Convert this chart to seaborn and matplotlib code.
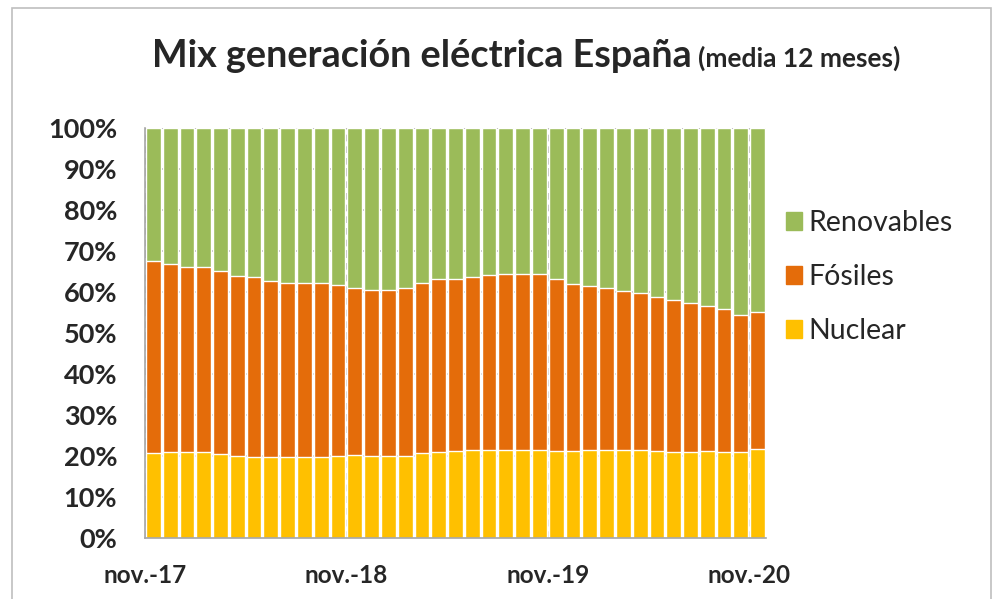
import numpy as np
import pandas as pd
import matplotlib
matplotlib.use('Agg')
import matplotlib.pyplot as plt
import matplotlib.patches as mpatches
import seaborn as sns

# meses (media movil 12 meses), nov-17 .. nov-20
months = ['nov.-17', 'dic.-17', 'ene.-18', 'feb.-18', 'mar.-18', 'abr.-18', 'may.-18', 'jun.-18',
          'jul.-18', 'ago.-18', 'sep.-18', 'oct.-18', 'nov.-18', 'dic.-18', 'ene.-19', 'feb.-19',
          'mar.-19', 'abr.-19', 'may.-19', 'jun.-19', 'jul.-19', 'ago.-19', 'sep.-19', 'oct.-19',
          'nov.-19', 'dic.-19', 'ene.-20', 'feb.-20', 'mar.-20', 'abr.-20', 'may.-20', 'jun.-20',
          'jul.-20', 'ago.-20', 'sep.-20', 'oct.-20', 'nov.-20']

# cuota de cada tecnologia (%)
nuclear = [20.8, 20.9, 21.0, 20.9, 20.4, 19.9, 19.8, 19.8, 19.8, 19.7, 19.8, 20.1,
           20.2, 20.1, 20.0, 20.1, 20.7, 21.0, 21.2, 21.4, 21.5, 21.5, 21.5, 21.4,
           21.2, 21.2, 21.4, 21.5, 21.5, 21.4, 21.3, 21.0, 21.0, 21.1, 21.0, 21.0, 21.8]
fosiles = [46.7, 45.9, 45.2, 45.3, 44.6, 44.1, 43.8, 43.0, 42.4, 42.5, 42.4, 41.6,
           40.8, 40.5, 40.6, 40.8, 41.5, 42.2, 42.0, 42.3, 42.6, 43.0, 42.8, 43.0,
           41.9, 40.7, 40.1, 39.4, 38.7, 38.4, 37.6, 37.1, 36.3, 35.4, 34.9, 33.5, 33.3]
renovables = [32.5, 33.2, 33.8, 33.8, 35.0, 36.0, 36.4, 37.2, 37.8, 37.8, 37.8, 38.3,
              39.0, 39.4, 39.4, 39.1, 37.8, 36.8, 36.8, 36.3, 35.9, 35.5, 35.7, 35.6,
              36.9, 38.1, 38.5, 39.1, 39.8, 40.2, 41.1, 41.9, 42.7, 43.5, 44.1, 45.5, 44.9]

series_names = ['Nuclear', 'Fósiles', 'Renovables']
colors = {'Nuclear': '#FFC000', 'Fósiles': '#E46C0A', 'Renovables': '#9BBB59'}
tick_labels = ['nov.-17', 'nov.-18', 'nov.-19', 'nov.-20']

df = pd.DataFrame({'mes': months, 'Nuclear': nuclear, 'Fósiles': fosiles, 'Renovables': renovables})
# alturas acumuladas para apilar
stack = df[series_names].cumsum(axis=1)
stack['mes'] = df['mes']

sns.set_style('white')
plt.rcParams['font.family'] = ['Lato', 'DejaVu Sans']

fig = plt.figure(figsize=(10.03, 5.99), dpi=100)
ax = fig.add_axes([145 / 1003, 1 - 538 / 599, (766 - 145) / 1003, (538 - 128) / 599])

# se dibuja de arriba hacia abajo para que cada capa tape la anterior
for name in reversed(series_names):
    sns.barplot(data=stack, x='mes', y=name, color=colors[name],
                width=0.88, saturation=1, ax=ax, zorder=3)

ax.set_xlim(-0.5, len(months) - 0.5)
ax.set_ylim(0, 100)

# rejilla horizontal cada 10%
for v in range(10, 100, 10):
    ax.axhline(v, color='#A6A6A6', lw=1.2, zorder=1)
ax.axhline(100, color='#A6A6A6', lw=1.2, ls=(0, (4, 3)), zorder=1)
# rejilla vertical en noviembre
nov_pos = [i - 0.5 for i, m in enumerate(months) if m in tick_labels]
for p in nov_pos:
    ax.axvline(p, color='#A6A6A6', lw=1.2, ls=(0, (4, 3)), zorder=1)

ax.set_yticks(range(0, 101, 10))
ax.set_yticklabels([f'{v}%' for v in range(0, 101, 10)], fontsize=19.5, fontweight='bold')
ax.set_xticks([i - 0.5 for i in range(0, len(months), 3)])
ax.set_xticklabels([months[i] if months[i] in tick_labels else '' for i in range(0, len(months), 3)],
                   fontsize=17.5, fontweight='bold')
ax.tick_params(axis='y', length=7, width=1.2, color='#A6A6A6', direction='out', pad=13)
ax.tick_params(axis='x', length=6, width=1.2, color='#A6A6A6', direction='out', pad=13)
ax.set_xlabel('')
ax.set_ylabel('')

for s in ['top', 'right']:
    ax.spines[s].set_visible(False)
for s in ['left', 'bottom']:
    ax.spines[s].set_color('#A6A6A6')
    ax.spines[s].set_linewidth(1.2)
    ax.spines[s].set_zorder(4)

# leyenda (Renovables arriba)
handles = [mpatches.Patch(color=colors[n], label=n) for n in reversed(series_names)]
fig.legend(handles=handles, loc='center left', bbox_to_anchor=(786 / 1003, 1 - 277 / 599),
           frameon=False, fontsize=20.5, handlelength=0.56, handleheight=0.56, handletextpad=0.22,
           labelspacing=0.98, borderpad=0, borderaxespad=0)

# titulo en dos partes
t1 = fig.text(152 / 1003, 1 - 67 / 599, 'Mix generación eléctrica España', fontsize=27.2,
              fontweight='bold', ha='left', va='baseline')
fig.canvas.draw()
bb = t1.get_window_extent()
fig.text((bb.x1 + 6) / 1003, 1 - 67 / 599, '(media 12 meses)', fontsize=19,
         fontweight='bold', ha='left', va='baseline')

# marco del grafico
fig.patches.append(mpatches.Rectangle((12 / 1003, -0.05), (991 - 12) / 1003, 1.05 - 8 / 599,
                                      transform=fig.transFigure, fill=False,
                                      edgecolor='#BFBFBF', lw=1.2))

fig.savefig('out.png', dpi=100)
